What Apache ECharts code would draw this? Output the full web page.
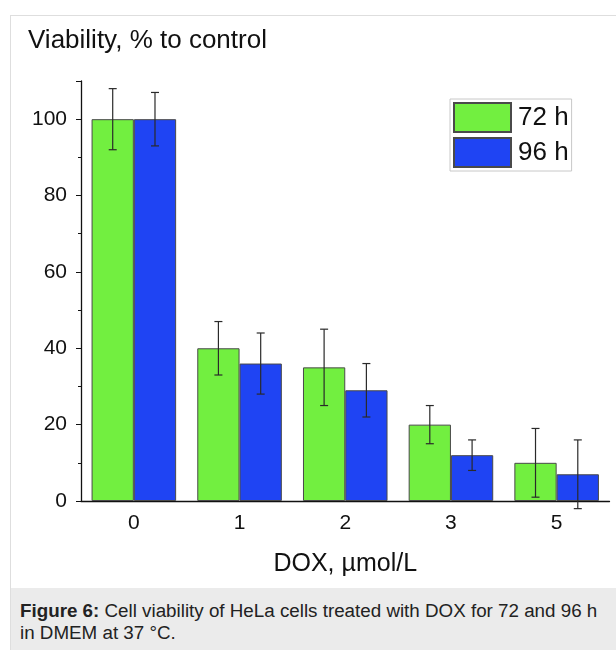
<!DOCTYPE html>
<html>
<head>
<meta charset="utf-8">
<script src="https://cdn.jsdelivr.net/npm/echarts@6/dist/echarts.min.js"></script>
<style>
  body { margin: 0; background: #fff; font-family: "Liberation Sans", Arial, sans-serif; }
  #frame { position: absolute; left: 10px; top: 15px; width: 620px; height: 650px; border-top: 1px solid #dedede; border-left: 1px solid #dedede; }
  #chart { position: absolute; left: 0; top: 0; width: 616px; height: 588px; }
  #caption { position: absolute; left: 11px; top: 588px; width: 605px; height: 62px; background: #ebebeb; box-sizing: border-box; padding: 12px 0 0 9px; font-size: 18.8px; line-height: 22px; color: #222; }
</style>
</head>
<body>
<div id="frame"></div>
<div id="chart"></div>
<div id="caption"><b>Figure 6:</b> Cell viability of HeLa cells treated with DOX for 72 and 96 h<br>in DMEM at 37 °C.</div>
<script>
const doses = ['0', '1', '2', '3', '5']
const viab72 = [100, 40, 35, 20, 10]
const err72 = [8, 7, 10, 5, 9]
const viab96 = [100, 36, 29, 12, 7]
const err96 = [7, 8, 7, 4, 9]

const green = '#72ef40'
const blue = '#1f44f3'

// error bars drawn next to each bar: offset = -0.2 / +0.2 of the category width
function errorSeries(name, vals, errs, shift) {
  return {
    name: name + ' err',
    type: 'custom',
    xAxisIndex: 0,
    z: 10,
    silent: true,
    data: vals.map((v, i) => [i, v - errs[i], v + errs[i]]),
    encode: { x: 0, y: [1, 2] },
    renderItem: function(params, api) {
      const lo = api.coord([api.value(0), api.value(1)])
      const hi = api.coord([api.value(0), api.value(2)])
      const cw = api.size([1, 0])[0]
      const x = lo[0] + shift * cw
      const cap = 4
      const style = { stroke: '#2a2a2a', lineWidth: 1.2 }
      return {
        type: 'group',
        children: [
          { type: 'line', shape: { x1: x, y1: lo[1], x2: x, y2: hi[1] }, style },
          { type: 'line', shape: { x1: x - cap, y1: lo[1], x2: x + cap, y2: lo[1] }, style },
          { type: 'line', shape: { x1: x - cap, y1: hi[1], x2: x + cap, y2: hi[1] }, style }
        ]
      }
    }
  }
}

const myChart = echarts.init(document.getElementById('chart'))
myChart.setOption({
  backgroundColor: 'transparent',
  animation: false,
  textStyle: { fontFamily: 'Liberation Sans', color: '#111' },
  title: {
    text: 'Viability, % to control',
    left: 23,
    top: 23,
    textStyle: { fontSize: 26, fontWeight: 'normal', color: '#111' }
  },
  legend: {
    orient: 'vertical',
    left: 450,
    top: 99,
    padding: [3, 3, 3, 3],
    itemGap: 4,
    itemWidth: 57,
    itemHeight: 29,
    icon: 'rect',
    borderColor: '#c8c8c8',
    borderWidth: 1,
    textStyle: { fontSize: 26, color: '#111', padding: [0, 0, 0, 2] },
    data: ['72 h', '96 h']
  },
  grid: { left: 81, right: 6.5, top: 81, bottom: 87 },
  xAxis: [
    {
      type: 'category',
      data: doses,
      name: 'DOX, µmol/L',
      nameLocation: 'middle',
      nameGap: 51,
      nameTextStyle: { fontSize: 25, color: '#111' },
      axisLine: { lineStyle: { color: '#111', width: 1.3 } },
      axisTick: { alignWithLabel: true, length: 6, lineStyle: { color: '#111' } },
      axisLabel: { fontSize: 21, color: '#111', margin: 12 }
    },
    {
      type: 'category',
      data: doses,
      position: 'bottom',
      axisLine: { show: false },
      axisTick: { length: 3, lineStyle: { color: '#111' } },
      axisLabel: { show: false }
    }
  ],
  yAxis: {
    type: 'value',
    min: 0,
    max: 110,
    interval: 20,
    axisLine: { show: true, lineStyle: { color: '#111', width: 1.3 } },
    axisTick: { show: true, length: 5, lineStyle: { color: '#111' } },
    minorTick: { show: true, splitNumber: 2, length: 3, lineStyle: { color: '#111' } },
    splitLine: { show: false },
    axisLabel: { fontSize: 21, color: '#111', margin: 14, showMaxLabel: false }
  },
  series: [
    {
      name: '72 h',
      type: 'bar',
      data: viab72,
      barGap: 0,
      barCategoryGap: '20%',
      itemStyle: { color: green, borderColor: '#4a4a4a', borderWidth: 1 }
    },
    {
      name: '96 h',
      type: 'bar',
      data: viab96,
      itemStyle: { color: blue, borderColor: '#4a4a4a', borderWidth: 1 }
    },
    errorSeries('72 h', viab72, err72, -0.2),
    errorSeries('96 h', viab96, err96, 0.2)
  ]
})
window.addEventListener('resize', function() {
  myChart.resize()
})
</script>
</body>
</html>
